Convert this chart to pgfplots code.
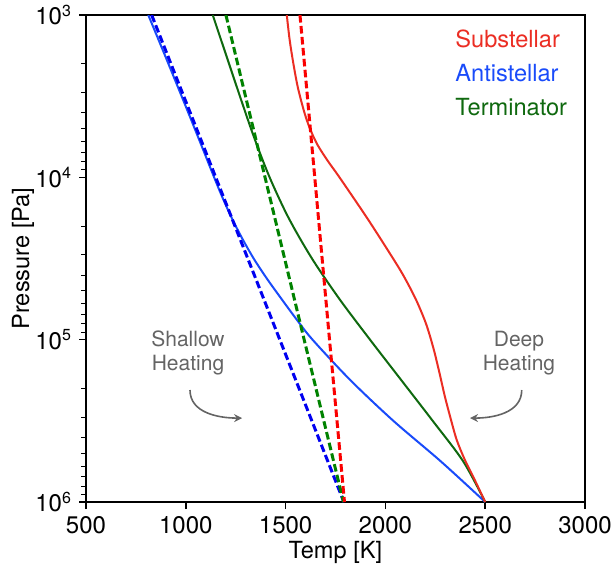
\documentclass[border=0pt]{standalone}
\usepackage{fontspec}
\setmainfont{TeX Gyre Heros}
\usepackage{pgfplots}
\pgfplotsset{compat=1.18}
\usetikzlibrary{arrows.meta}

\definecolor{subsolid}{RGB}{235,45,35}
\definecolor{subdash}{RGB}{250,0,0}
\definecolor{antisolid}{RGB}{25,75,250}
\definecolor{antidash}{RGB}{0,0,240}
\definecolor{termsolid}{RGB}{15,105,15}
\definecolor{termdash}{RGB}{0,130,0}
\definecolor{annot}{RGB}{100,100,100}

\pgfplotsset{
  pt solid/.style={line width=1pt, smooth, tension=0.5},
  pt dash/.style={line width=1.5pt, dash pattern=on 3.8pt off 1.7pt},
}

\begin{document}
\begin{tikzpicture}
\begin{axis}[
  name=ax,
  scale only axis,
  width=249.5pt, height=243.5pt,
  xmin=500, xmax=3000,
  ymode=log, ymin=1e3, ymax=1e6, y dir=reverse,
  xtick={500,1000,...,3000},
  ytick={1e3,1e4,1e5,1e6},
  yticklabels={10\textsuperscript{3},10\textsuperscript{4},10\textsuperscript{5},10\textsuperscript{6}},
  minor ytick={2e3,3e3,4e3,5e3,6e3,7e3,8e3,9e3,
               2e4,3e4,4e4,5e4,6e4,7e4,8e4,9e4,
               2e5,3e5,4e5,5e5,6e5,7e5,8e5,9e5},
  tick align=outside, tick pos=left,
  major tick length=3.5pt, minor tick length=2.5pt,
  every major tick/.append style={black, line width=0.8pt},
  every minor tick/.append style={black, line width=0.5pt},
  axis line style={line width=1pt},
  xlabel={Temp [K]}, ylabel={Pressure [Pa]},
  xlabel style={at={(axis description cs:0.5,-0.104)}, anchor=center},
  ylabel style={at={(axis description cs:-0.090,0.5)}, anchor=south},
  tick label style={font=\fontsize{12}{14}\selectfont},
  label style={font=\fontsize{11.8}{14}\selectfont},
  /pgf/number format/assume math mode=true,
  /pgf/number format/1000 sep={},
]
% solid profiles (T [K], P [Pa])
\addplot[pt solid, antisolid] coordinates {
  (812,1000) (896,1778) (979,3162) (1061,5623) (1142,10000)
  (1184,13340) (1230,17780) (1282,23710) (1340,31620) (1407,42170)
  (1480,56230) (1555,74990) (1635,100000) (1825,177800)
  (2040,316200) (2278,562300) (2500,1e6)
};
\addplot[pt solid, termsolid] coordinates {
  (1135,1000) (1203,1778) (1271,3162) (1341,5623) (1420,10000)
  (1515,17780) (1632,31620) (1770,56230) (1923,100000)
  (2080,177800) (2237,316200) (2390,562300) (2500,1e6)
};
\addplot[pt solid, subsolid] coordinates {
  (1506,1000) (1520,1413) (1539,1995) (1562,2818) (1594,3981)
  (1622,5012) (1660,6310) (1712,7943) (1770,10000) (1908,17780)
  (2023,29510) (2088,39810) (2152,56230) (2203,79430) (2240,112200)
  (2270,158500) (2298,223900) (2330,316200) (2358,416900)
  (2398,549500) (2450,741300) (2500,1e6)
};
% dashed profiles
\addplot[pt dash, antidash] coordinates {
  (829,1000) (1150,10000) (1471,100000) (1792,1e6)
};
\addplot[pt dash, termdash] coordinates {
  (1201,1000) (1397,10000) (1593,100000) (1790,1e6)
};
\addplot[pt dash, subdash] coordinates {
  (1572,1000) (1646,10000) (1720,100000) (1795,1e6)
};

% labels
\node[anchor=base west, inner sep=0pt, text=subsolid, font=\fontsize{11.8}{14}\selectfont] at (axis cs:2349,1581) {Substellar};
\node[anchor=base west, inner sep=0pt, text=antisolid, font=\fontsize{11.8}{14}\selectfont] at (axis cs:2349,2553) {Antistellar};
\node[anchor=base west, inner sep=0pt, text=termsolid, font=\fontsize{11.8}{14}\selectfont] at (axis cs:2349,4130) {Terminator};

\node[text=annot, align=center, font=\fontsize{10.5}{12}\selectfont] at (axis cs:1011,121100) {Shallow\\Heating};
\node[text=annot, align=center, font=\fontsize{10.5}{12}\selectfont] at (axis cs:2669,121100) {Deep\\Heating};

\draw[annot, line width=0.8pt, -{Stealth[length=4pt,width=4pt]}]
  (axis cs:1021,204200) to[out=-90,in=180] (axis cs:1282,304100);
\draw[annot, line width=0.8pt, -{Stealth[length=4pt,width=4pt]}]
  (axis cs:2683,204200) to[out=-90,in=0] (axis cs:2424,304100);
\end{axis}
\pgfresetboundingbox
\path ([shift={(-43pt,-31.5pt)}]ax.south west) rectangle ([shift={(14.5pt,7.5pt)}]ax.north east);
\end{tikzpicture}
\end{document}
